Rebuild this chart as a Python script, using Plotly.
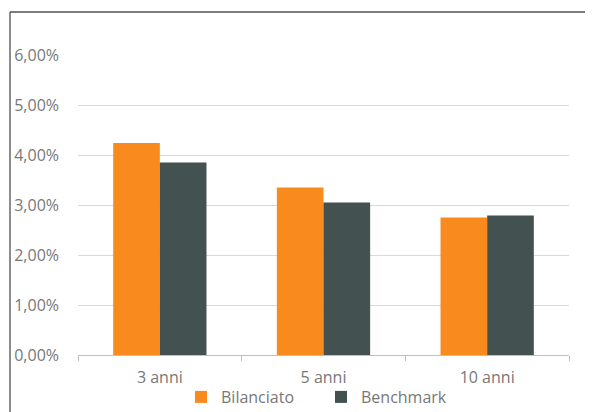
import plotly.graph_objects as go

categories = ["3 anni", "5 anni", "10 anni"]
bilanciato = [0.0424, 0.0335, 0.0275]
benchmark = [0.0385, 0.0305, 0.0279]
series_names = ["Bilanciato", "Benchmark"]
colors = ["#F98A1E", "#435150"]

fig = go.Figure()
for name, vals, col in zip(series_names, [bilanciato, benchmark], colors):
    fig.add_trace(go.Bar(x=categories, y=vals, name=name,
                         marker=dict(color=col, line=dict(width=0))))

# page body has an 8px margin; figure coordinates below are page px - 8
W, H = 585, 404
L, R, T, B = 70, 24, 47, 57
pw, ph = W - L - R, H - T - B

def px_x(px):
    return (px - L) / pw

def px_y(py):
    return (H - B - py) / ph

TXT = "#787878"

fig.update_layout(
    width=W, height=H,
    margin=dict(l=L, r=R, t=T, b=B, autoexpand=False),
    paper_bgcolor="white", plot_bgcolor="white",
    separators=",.",
    barmode="group", bargap=0.43, bargroupgap=0,
    font=dict(family="Open Sans", size=16, color=TXT),
    showlegend=True,
    legend=dict(orientation="h", xref="container", yref="container",
                x=(181 - 8) / W, xanchor="left", y=1 - (397 - 8) / H, yanchor="middle",
                font=dict(size=16, color=TXT), itemwidth=30, traceorder="normal",
                entrywidth=95, bgcolor="rgba(0,0,0,0)"),
    xaxis=dict(type="category", showgrid=False, showline=True, linecolor="#BFBFBF", linewidth=1,
               ticks="outside", tickson="boundaries", ticklen=5, tickcolor="#BFBFBF",
               ticklabelstandoff=8, tickfont=dict(size=16, color=TXT)),
    yaxis=dict(range=[0, 0.06], tickvals=[0, 0.01, 0.02, 0.03, 0.04, 0.05, 0.06], tickformat=".2%",
               showgrid=True, gridcolor="#D9D9D9", gridwidth=1, zeroline=False, showline=False,
               ticks="", ticklabelstandoff=18, tickfont=dict(size=16, color=TXT)),
    shapes=[
        dict(type="line", xref="paper", yref="paper", x0=px_x(2), x1=px_x(W), y0=px_y(4), y1=px_y(4),
             line=dict(color="#505050", width=1.3)),
        dict(type="line", xref="paper", yref="paper", x0=px_x(2), x1=px_x(2), y0=px_y(4), y1=px_y(H),
             line=dict(color="#505050", width=1.3)),
    ],
)

fig.write_html("out.html")
